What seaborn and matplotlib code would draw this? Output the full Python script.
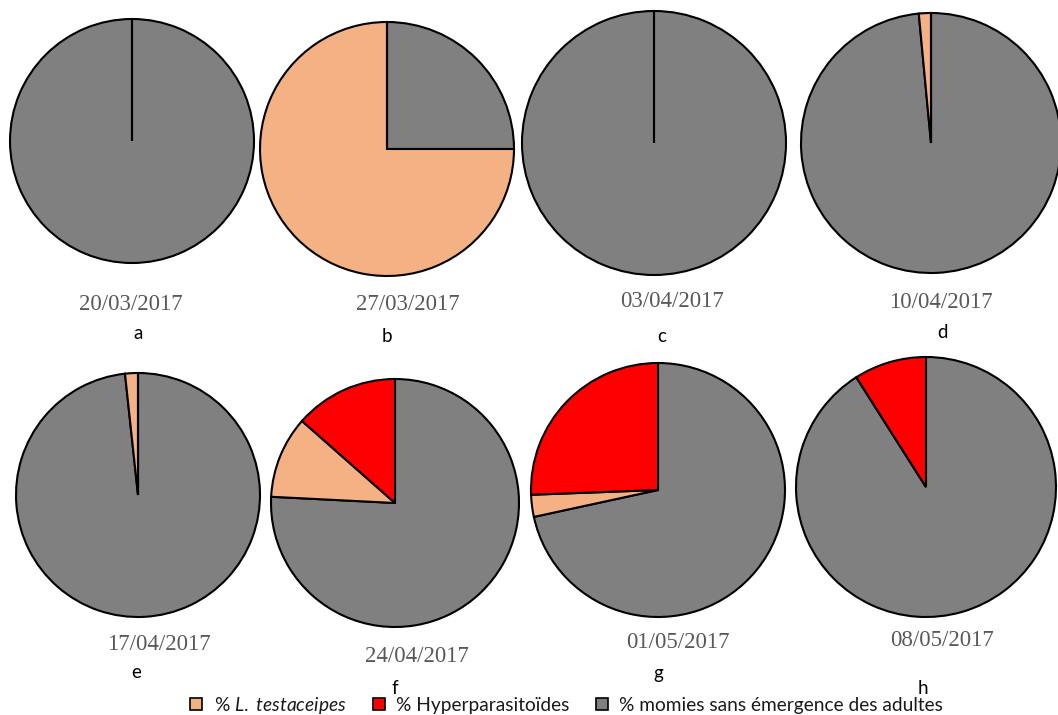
import matplotlib
matplotlib.use("Agg")
import matplotlib.pyplot as plt
import seaborn as sns
from matplotlib.lines import Line2D

# Sampling dates, panel letters and the share (%) of each mummy outcome
dates = ["20/03/2017", "27/03/2017", "03/04/2017", "10/04/2017",
         "17/04/2017", "24/04/2017", "01/05/2017", "08/05/2017"]
letters = ["a", "b", "c", "d", "e", "f", "g", "h"]
pct_testaceipes = [0, 75, 0, 1.5, 1.7, 10.7, 2.8, 0]
pct_hyper = [0, 0, 0, 0, 0, 13.5, 25.6, 9.0]
pct_momies = [100, 25, 100, 98.5, 98.3, 75.8, 71.6, 91.0]

series_labels = ["% $\\mathit{L.}$ $\\mathit{testaceipes}$", "% Hyperparasitoïdes",
                 "% momies sans émergence des adultes"]

sns.set_theme(style="white")
plt.rcParams["mathtext.fontset"] = "custom"
plt.rcParams["mathtext.rm"] = "Lato"
plt.rcParams["mathtext.it"] = "Lato:italic"

palette = sns.color_palette(["#F4B183", "#FF0000", "#808080"])
c_lt, c_hy, c_mo = palette

W, H = 1058, 715
fig = plt.figure(figsize=(W / 100, H / 100), dpi=100)
fig.patch.set_facecolor("white")

# Panel layout in pixels: pie centre, radius, date label and letter positions
pie_geom = [(132, 141, 122), (387, 149, 127), (654, 143, 132), (931, 143, 130),
            (138, 495, 122), (395, 503, 124), (658, 490, 127), (926, 487, 130)]
date_pos = [(131, 305), (408, 305), (672, 302), (941, 303),
            (159, 645), (417, 656), (678, 643), (942, 641)]
letter_pos = [(138, 333), (387, 337), (662, 337), (942, 332),
              (136, 672), (395, 688), (658, 673), (923, 688)]

pad = 3
for i in range(len(dates)):
    cx, cy, r = pie_geom[i]
    size = 2 * (r + pad)
    ax = fig.add_axes([(cx - r - pad) / W, (H - cy - r - pad) / H, size / W, size / H])
    vals = [pct_momies[i], pct_testaceipes[i], pct_hyper[i]]
    ax.pie(vals, colors=[c_mo, c_lt, c_hy], startangle=90, counterclock=False,
           radius=1, wedgeprops=dict(edgecolor="black", linewidth=1.5))
    lim = (r + pad) / r
    ax.set_xlim(-lim, lim)
    ax.set_ylim(-lim, lim)
    ax.set_aspect("equal")
    ax.axis("off")

    dx, dy = date_pos[i]
    fig.text(dx / W, 1 - dy / H, dates[i], ha="center", va="center",
             fontsize=16.5, family="Liberation Serif", color="#595959")
    lx, ly = letter_pos[i]
    fig.text(lx / W, 1 - ly / H, letters[i], ha="center", va="center",
             fontsize=13.5, family="Lato", color="black")

handles = [Line2D([0], [0], marker="s", linestyle="none", markersize=9,
                  markerfacecolor=c, markeredgecolor="black", markeredgewidth=1.2)
           for c in (c_lt, c_hy, c_mo)]
leg = fig.legend(handles, series_labels, loc="center", bbox_to_anchor=(566 / W, 1 - 705 / H),
                 ncol=3, frameon=False, handlelength=0.8, handletextpad=0.5,
                 columnspacing=1.3, prop={"family": "Lato", "size": 13.8})
for t in leg.get_texts():
    t.set_color("#1a1a1a")

fig.savefig("out.png", dpi=100, facecolor="white")
